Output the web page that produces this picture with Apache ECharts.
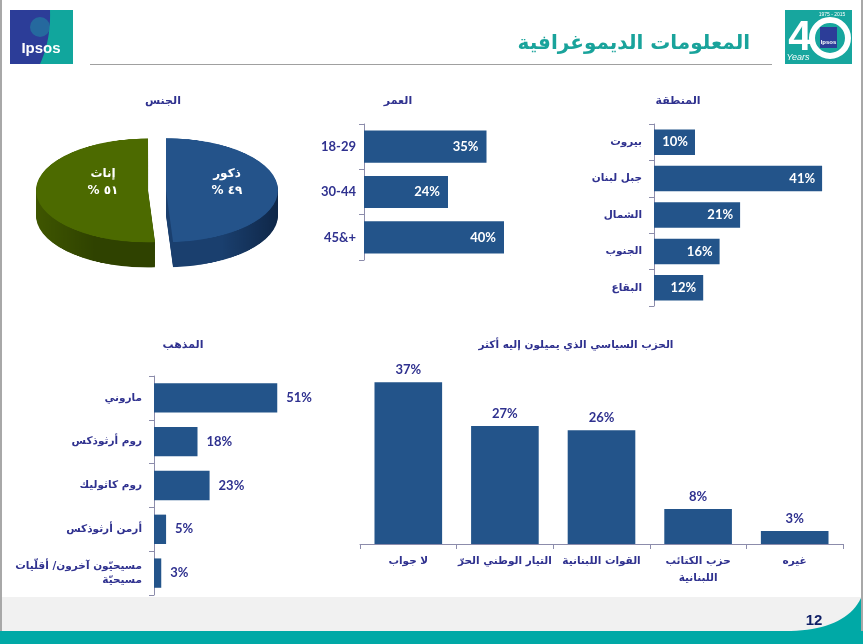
<!DOCTYPE html>
<html><head><meta charset="utf-8">
<script src="https://cdn.jsdelivr.net/npm/echarts@6/dist/echarts.min.js"></script>
<style>
html,body{margin:0;padding:0;background:#fff;}
#pie{position:absolute;left:27px;top:129.7px;width:260px;height:320px;transform:scaleY(0.464);transform-origin:0 0;z-index:1;}
#main{position:absolute;left:0;top:0;width:863px;height:644px;z-index:2;}
</style></head>
<body>
<div id="pie"></div>
<div id="main"></div>
<script>
// ---- data ----
const genderNames = ['ذكور', 'إناث'];
const genderValues = [49, 51];
const ageCats = ['18-29', '30-44', '45&+'];
const ageValues = [35, 24, 40];
const regionCats = ['بيروت', 'جبل لبنان', 'الشمال', 'الجنوب', 'البقاع'];
const regionValues = [10, 41, 21, 16, 12];
const sectCats = ['ماروني', 'روم أرثوذكس', 'روم كاثوليك', 'أرمن أرثوذكس', 'مسيحيّون آخرون/ أقلّيات\nمسيحيّة'];
const sectValues = [51, 18, 23, 5, 3];
const partyCats = ['لا جواب', 'التيار الوطني الحرّ', 'القوات اللبنانية', 'حزب الكتائب\nاللبنانية', 'غيره'];
const partyValues = [37, 27, 26, 8, 3];
const chartTitles = ['الجنس', 'العمر', 'المنطقة', 'المذهب', 'الحزب السياسي الذي يميلون إليه أكثر'];
const pageTitle = 'المعلومات الديموغرافية';
const pageNumber = '12';

// ---- styles ----
const BAR = '#23548a';
const NAVY = '#2f318f';
const AXIS = '#8c8cab';
const NUMFONT = 'Lato, "Open Sans", sans-serif';
const ARFONT = '"DejaVu Sans", sans-serif';
const topColors = ['#24538a', '#4c6a00'];
const sideColors = [
  {type:'linear', x:0, y:0, x2:1, y2:0, colorStops:[{offset:0.5, color:'#1a3f6e'}, {offset:1, color:'#0f2748'}]},
  {type:'linear', x:0, y:0, x2:1, y2:0, colorStops:[{offset:0, color:'#3f5600'}, {offset:0.5, color:'#2f4200'}]}
];

function arabicDigits(n){ return String(n).replace(/[0-9]/g, d => '٠١٢٣٤٥٦٧٨٩'[d]); }

// ---- 3D-ish pie (ellipse via CSS scale) ----
const pie = echarts.init(document.getElementById('pie'), null, {width:260, height:320});
const pieSeries = [];
function pieLayer(off, colors){
  return {
    type:'pie', center:[130, 130 + off], radius:112, startAngle:90, clockwise:true,
    selectedMode:'multiple', selectedOffset:9, silent:true, animation:false,
    label:{show:false}, labelLine:{show:false},
    emphasis:{disabled:true},
    data: genderNames.map((n,i)=>({name:n, value:genderValues[i], selected:true, itemStyle:{color:colors[i]}}))
  };
}
for (let off = 54; off > 0; off -= 3) pieSeries.push(pieLayer(off, sideColors));
pieSeries.push(pieLayer(0, topColors));
pie.setOption({animation:false, series: pieSeries});

// ---- main chart ----
const main = echarts.init(document.getElementById('main'), null, {width:863, height:644});

function catAxisH(grid, data, margin){
  return {
    gridIndex:grid, type:'category', data:data, inverse:true,
    axisLine:{show:true, lineStyle:{color:AXIS, width:1}},
    axisTick:{show:true, length:5, interval:0, lineStyle:{color:AXIS}},
    axisLabel:{margin:margin, color:NAVY, fontWeight:'bold', fontSize:10.5, fontFamily:ARFONT, lineHeight:14, interval:0},
    splitLine:{show:false}
  };
}
function valAxisHidden(grid, max){
  return {gridIndex:grid, type:'value', min:0, max:max, show:false, splitLine:{show:false}};
}
const pct = p => p.value + '%';

// decorative curve for the footer swoosh (quadratic curve sampled to polygon)
function quadPts(p0, c, p1, n){
  const pts = [];
  for (let i = 0; i <= n; i++){
    const t = i / n, u = 1 - t;
    pts.push([u*u*p0[0] + 2*u*t*c[0] + t*t*p1[0], u*u*p0[1] + 2*u*t*c[1] + t*t*p1[1]]);
  }
  return pts;
}
const swoosh = quadPts([785,631],[845,631],[861,598],20).concat([[861,644],[785,644]]);
const ipsosTeal = [[50,10],[73,10],[73,64],[40,64]].concat(quadPts([40,64],[51,40],[50,10],12));

const graphics = [
  // side borders
  {type:'rect', shape:{x:0,y:0,width:2,height:644}, style:{fill:'#a8a8a8'}},
  {type:'rect', shape:{x:861,y:0,width:2,height:644}, style:{fill:'#a8a8a8'}},
  // footer
  {type:'rect', shape:{x:2,y:597,width:859,height:34}, style:{fill:'#f1f1f1'}},
  {type:'rect', shape:{x:0,y:631,width:863,height:13}, style:{fill:'#00a9a6'}},
  {type:'polygon', shape:{points:swoosh}, style:{fill:'#00a9a6'}},
  {type:'text', x:814, y:621, style:{text:pageNumber, fill:'#0f1f66', font:'bold 15px "Liberation Sans Narrow", "Liberation Sans", sans-serif', textAlign:'center', textVerticalAlign:'middle'}},
  // header line and title
  {type:'rect', shape:{x:90,y:64,width:682,height:1}, style:{fill:'#a0a0a0'}},
  {type:'text', x:750, y:44, style:{text:pageTitle, fill:'#19a39b', font:'bold 20px ' + ARFONT, textAlign:'right', textVerticalAlign:'middle'}},
  // Ipsos logo
  {type:'rect', shape:{x:10,y:10,width:63,height:54}, style:{fill:'#2c3d98'}},
  {type:'polygon', shape:{points:ipsosTeal}, style:{fill:'#11a69d'}},
  {type:'circle', shape:{cx:40, cy:27, r:10}, style:{fill:'#1d9fa6', opacity:0.45}},
  {type:'text', x:41, y:49, style:{text:'Ipsos', fill:'#ffffff', font:'bold 15px "Liberation Sans", sans-serif', textAlign:'center', textVerticalAlign:'middle'}},
  // 40 years logo
  {type:'rect', shape:{x:785,y:10,width:67,height:54}, style:{fill:'#17a69e'}},
  {type:'text', x:800, y:38, style:{text:'4', fill:'#ffffff', font:'bold 42px "Liberation Sans", sans-serif', textAlign:'center', textVerticalAlign:'middle'}},
  {type:'circle', shape:{cx:830, cy:38, r:18}, style:{fill:'none', stroke:'#ffffff', lineWidth:6}},
  {type:'rect', shape:{x:820,y:27,width:17,height:21}, style:{fill:'#2c3d98'}},
  {type:'text', x:828.5, y:42, style:{text:'Ipsos', fill:'#ffffff', font:'bold 6px "Liberation Sans", sans-serif', textAlign:'center', textVerticalAlign:'middle'}},
  {type:'text', x:798, y:57, style:{text:'Years', fill:'#ffffff', font:'italic 9px "Liberation Sans", sans-serif', textAlign:'center', textVerticalAlign:'middle'}},
  {type:'text', x:832, y:15, style:{text:'1975 - 2015', fill:'#ffffff', font:'5px "Liberation Sans", sans-serif', textAlign:'center', textVerticalAlign:'middle'}},
  // chart titles
  {type:'text', x:163, y:101, style:{text:chartTitles[0], fill:NAVY, font:'bold 11px ' + ARFONT, textAlign:'center', textVerticalAlign:'middle'}},
  {type:'text', x:398, y:101, style:{text:chartTitles[1], fill:NAVY, font:'bold 11px ' + ARFONT, textAlign:'center', textVerticalAlign:'middle'}},
  {type:'text', x:678, y:101, style:{text:chartTitles[2], fill:NAVY, font:'bold 11px ' + ARFONT, textAlign:'center', textVerticalAlign:'middle'}},
  {type:'text', x:183, y:345, style:{text:chartTitles[3], fill:NAVY, font:'bold 11px ' + ARFONT, textAlign:'center', textVerticalAlign:'middle'}},
  {type:'text', x:576, y:345, style:{text:chartTitles[4], fill:NAVY, font:'bold 10.5px ' + ARFONT, textAlign:'center', textVerticalAlign:'middle'}}
];
// pie labels
const pieLabelPos = [[227, 174, 191], [103, 174, 191]];
genderNames.forEach((n, i) => {
  graphics.push({type:'text', x:pieLabelPos[i][0], y:pieLabelPos[i][1], style:{text:n, fill:'#ffffff', font:'bold 12px ' + ARFONT, textAlign:'center', textVerticalAlign:'middle'}});
  graphics.push({type:'text', x:pieLabelPos[i][0], y:pieLabelPos[i][2], style:{text:'% ' + arabicDigits(genderValues[i]), fill:'#ffffff', font:'bold 12px ' + ARFONT, textAlign:'center', textVerticalAlign:'middle'}});
});

main.setOption({
  animation:false,
  backgroundColor:'transparent',
  grid:[
    {left:364, top:124, width:175, height:136},
    {left:654, top:124, width:205, height:182},
    {left:154, top:376, width:145, height:219},
    {left:360, top:369, width:483, height:175}
  ],
  xAxis:[
    valAxisHidden(0, 50),
    valAxisHidden(1, 50),
    valAxisHidden(2, 60),
    {gridIndex:3, type:'category', data:partyCats,
      axisLine:{show:true, lineStyle:{color:AXIS}},
      axisTick:{show:true, length:5, interval:0, lineStyle:{color:AXIS}},
      axisLabel:{margin:9, color:NAVY, fontWeight:'bold', fontSize:10.5, fontFamily:ARFONT, lineHeight:17, interval:0},
      splitLine:{show:false}}
  ],
  yAxis:[
    Object.assign(catAxisH(0, ageCats, 8), {axisLabel:{margin:8, color:NAVY, fontWeight:'bold', fontSize:13, fontFamily:NUMFONT, interval:0}}),
    catAxisH(1, regionCats, 12),
    catAxisH(2, sectCats, 12),
    valAxisHidden(3, 40)
  ],
  series:[
    {type:'bar', xAxisIndex:0, yAxisIndex:0, data:ageValues, barCategoryGap:'29%', itemStyle:{color:BAR},
      label:{show:true, position:'insideRight', distance:8, formatter:pct, color:'#fff', fontWeight:'bold', fontSize:13, fontFamily:NUMFONT}},
    {type:'bar', xAxisIndex:1, yAxisIndex:1, data:regionValues, barCategoryGap:'30%', itemStyle:{color:BAR},
      label:{show:true, position:'insideRight', distance:7, formatter:pct, color:'#fff', fontWeight:'bold', fontSize:13, fontFamily:NUMFONT}},
    {type:'bar', xAxisIndex:2, yAxisIndex:2, data:sectValues, barCategoryGap:'33%', itemStyle:{color:BAR},
      label:{show:true, position:'right', distance:9, formatter:pct, color:NAVY, fontWeight:'bold', fontSize:13, fontFamily:NUMFONT}},
    {type:'bar', xAxisIndex:3, yAxisIndex:3, data:partyValues, barCategoryGap:'30%', itemStyle:{color:BAR},
      label:{show:true, position:'top', distance:6, formatter:pct, color:NAVY, fontWeight:'bold', fontSize:13, fontFamily:NUMFONT}}
  ],
  graphic: graphics
});
</script>
</body></html>
